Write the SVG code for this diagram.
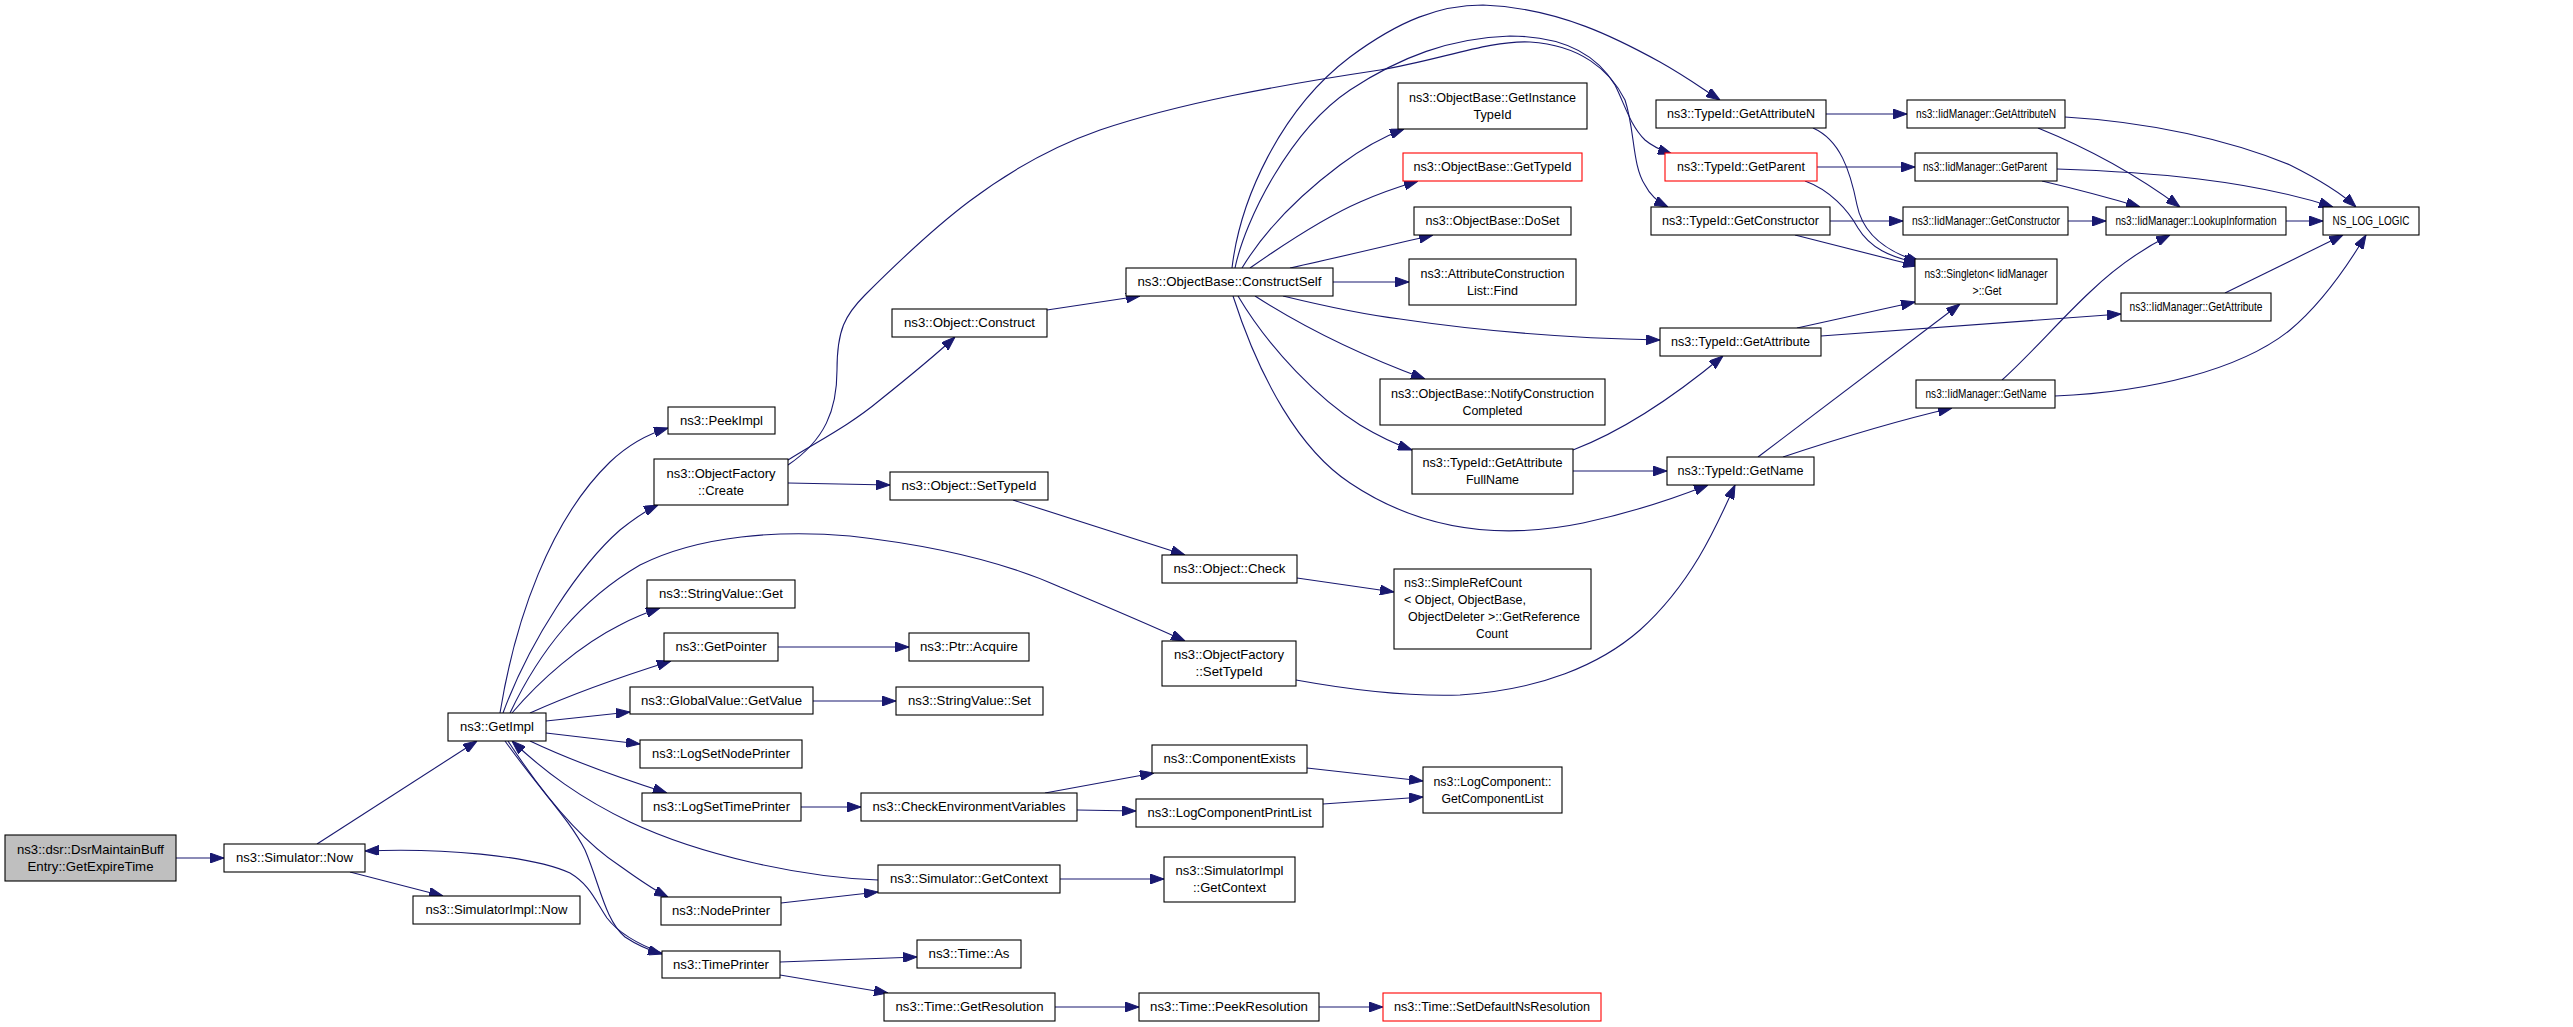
<svg xmlns="http://www.w3.org/2000/svg" width="2573" height="1027" viewBox="0 0 2573 1027">
<defs>
<style>
.n rect{fill:#fff;stroke:#000;stroke-width:1.1}
.r rect{stroke:#f00}
.g rect{fill:#bfbfbf}
text{font-family:"Liberation Sans",Arial,Helvetica,sans-serif;font-size:13.3px;fill:#000;text-anchor:middle}
text.s{text-anchor:start}
#edges path{fill:none;stroke:#191970;stroke-width:1.1;marker-end:url(#a)}
</style>
<marker id="a" viewBox="0 0 14 10" refX="14" refY="5" markerWidth="14" markerHeight="10" markerUnits="userSpaceOnUse" orient="auto">
<path d="M0,0 L14,5 L0,10 Z" fill="#191970" stroke="#191970" stroke-width="1"/>
</marker>
</defs>
<rect x="0" y="0" width="2573" height="1027" fill="#fff"/>
<g id="edges">
<path d="M176,858 L224,858"/>
<path d="M317,844 L477,741"/>
<path d="M350,872 L443,896"/>
<path d="M662,953 C640,945 620,935 607,918 C595,900 590,885 570,873 C530,855 440,848 365,851"/>
<path d="M500,713 C515,620 550,520 610,462 C630,443 648,434 668,428"/>
<path d="M503,713 C530,640 580,565 620,530 C635,518 645,511 658,505"/>
<path d="M510,713 C540,650 580,600 640,565 C700,535 780,530 850,536 C930,545 1000,560 1060,587 C1110,608 1150,625 1185,641"/>
<path d="M512,713 C540,680 580,645 620,625 C635,617 648,612 660,608"/>
<path d="M530,713 C570,695 620,677 671,661"/>
<path d="M546,721 L630,712"/>
<path d="M546,733 L640,744"/>
<path d="M530,741 C570,760 620,778 667,793"/>
<path d="M508,741 C540,790 580,840 620,866 C640,880 652,889 668,897"/>
<path d="M505,741 C540,790 570,820 585,850 C600,885 605,920 625,937 C637,945 648,950 662,954"/>
<path d="M878,880 C800,877 700,855 630,822 C580,798 545,772 512,741"/>
<path d="M781,903 L878,892"/>
<path d="M788,483 L890,485"/>
<path d="M788,460 C820,440 850,425 880,400 C905,380 930,360 955,337"/>
<path d="M788,465 C825,440 837,410 837,370 C837,330 845,315 865,295 C930,230 1000,165 1100,130 C1180,103 1280,85 1380,70 C1440,60 1490,40 1530,42 C1580,45 1610,70 1625,100 C1635,130 1632,165 1645,185 C1650,195 1658,202 1668,207"/>
<path d="M1235,268 C1245,220 1290,130 1350,90 C1400,57 1450,38 1510,36 C1570,36 1600,60 1615,85 C1625,105 1630,125 1645,140 C1652,146 1660,150 1672,154"/>
<path d="M1232,268 C1240,200 1280,110 1350,57 C1400,20 1440,5 1483,5 C1560,8 1620,40 1660,62 C1685,76 1700,87 1720,100"/>
<path d="M1242,268 C1265,230 1300,195 1340,165 C1360,150 1380,138 1404,129"/>
<path d="M1250,268 C1290,240 1330,215 1360,202 C1380,193 1398,187 1418,181"/>
<path d="M1290,268 C1340,257 1390,245 1433,235"/>
<path d="M1333,282 L1409,282"/>
<path d="M1283,296 C1320,305 1360,314 1400,319 C1480,331 1560,338 1660,340"/>
<path d="M1255,296 C1300,325 1360,355 1425,379"/>
<path d="M1238,296 C1270,350 1320,400 1360,425 C1380,437 1395,444 1412,450"/>
<path d="M1233,296 C1260,380 1300,450 1350,483 C1420,530 1500,540 1583,523 C1630,513 1670,500 1708,485"/>
<path d="M1047,310 L1140,296"/>
<path d="M1013,500 L1185,555"/>
<path d="M1297,578 L1394,592"/>
<path d="M778,647 L909,647"/>
<path d="M813,701 L896,701"/>
<path d="M801,807 L861,807"/>
<path d="M1045,793 L1154,773"/>
<path d="M1077,810 L1136,811"/>
<path d="M1307,768 L1423,781"/>
<path d="M1323,804 L1423,797"/>
<path d="M1060,879 L1164,879"/>
<path d="M780,962 L917,957"/>
<path d="M780,975 L888,993"/>
<path d="M1055,1007 L1139,1007"/>
<path d="M1319,1007 L1383,1007"/>
<path d="M1296,680 C1340,688 1400,697 1460,695 C1540,690 1600,665 1640,630 C1690,585 1715,530 1735,485"/>
<path d="M1573,450 C1620,432 1670,400 1723,356"/>
<path d="M1573,471 L1667,471"/>
<path d="M1826,114 L1907,114"/>
<path d="M1813,128 C1840,140 1850,170 1857,205 C1862,230 1880,250 1920,262"/>
<path d="M1817,167 L1915,167"/>
<path d="M1805,181 C1830,190 1848,210 1858,228 C1870,248 1890,257 1918,263"/>
<path d="M1830,221 L1903,221"/>
<path d="M1795,235 L1917,266"/>
<path d="M1797,328 L1915,302"/>
<path d="M1821,336 C1900,330 2000,322 2121,314"/>
<path d="M1758,457 L1960,304"/>
<path d="M1783,457 C1840,438 1900,420 1952,408"/>
<path d="M2038,128 C2080,145 2130,170 2180,207"/>
<path d="M2065,117 C2150,122 2230,140 2290,165 C2320,180 2340,192 2356,207"/>
<path d="M2042,181 C2080,190 2110,198 2140,207"/>
<path d="M2057,169 C2150,172 2250,180 2333,207"/>
<path d="M2068,221 L2106,221"/>
<path d="M2286,221 L2323,221"/>
<path d="M2225,293 L2343,235"/>
<path d="M2002,380 C2030,355 2060,320 2090,292 C2115,268 2140,250 2170,235"/>
<path d="M2055,396 C2150,392 2240,370 2290,330 C2320,305 2345,270 2366,235"/>
</g>
<g id="dsr" class="n g"><rect x="5" y="835" width="171" height="46"/><text x="90.5" y="853.5" textLength="147" lengthAdjust="spacingAndGlyphs">ns3::dsr::DsrMaintainBuff</text><text x="90.5" y="870.5" textLength="126" lengthAdjust="spacingAndGlyphs">Entry::GetExpireTime</text></g>
<g id="simnow" class="n"><rect x="224" y="844" width="141" height="28"/><text x="294.5" y="862" textLength="117" lengthAdjust="spacingAndGlyphs">ns3::Simulator::Now</text></g>
<g id="simimplnow" class="n"><rect x="413" y="896" width="167" height="28"/><text x="496.5" y="914" textLength="142" lengthAdjust="spacingAndGlyphs">ns3::SimulatorImpl::Now</text></g>
<g id="getimpl" class="n"><rect x="448" y="713" width="98" height="28"/><text x="497" y="731" textLength="74" lengthAdjust="spacingAndGlyphs">ns3::GetImpl</text></g>
<g id="peekimpl" class="n"><rect x="668" y="407" width="107" height="27"/><text x="721.5" y="425" textLength="83" lengthAdjust="spacingAndGlyphs">ns3::PeekImpl</text></g>
<g id="ofcreate" class="n"><rect x="654" y="459" width="134" height="46"/><text x="721" y="477.5" textLength="109" lengthAdjust="spacingAndGlyphs">ns3::ObjectFactory</text><text x="721" y="494.5" textLength="46" lengthAdjust="spacingAndGlyphs">::Create</text></g>
<g id="svget" class="n"><rect x="647" y="580" width="148" height="28"/><text x="721" y="598" textLength="124" lengthAdjust="spacingAndGlyphs">ns3::StringValue::Get</text></g>
<g id="getpointer" class="n"><rect x="664" y="633" width="114" height="28"/><text x="721" y="651" textLength="91" lengthAdjust="spacingAndGlyphs">ns3::GetPointer</text></g>
<g id="gvgetvalue" class="n"><rect x="630" y="687" width="183" height="27"/><text x="721.5" y="705" textLength="161" lengthAdjust="spacingAndGlyphs">ns3::GlobalValue::GetValue</text></g>
<g id="logsetnode" class="n"><rect x="640" y="740" width="162" height="28"/><text x="721" y="758" textLength="138" lengthAdjust="spacingAndGlyphs">ns3::LogSetNodePrinter</text></g>
<g id="logsettime" class="n"><rect x="642" y="793" width="159" height="28"/><text x="721.5" y="811" textLength="137" lengthAdjust="spacingAndGlyphs">ns3::LogSetTimePrinter</text></g>
<g id="nodeprinter" class="n"><rect x="661" y="897" width="120" height="28"/><text x="721" y="915" textLength="98" lengthAdjust="spacingAndGlyphs">ns3::NodePrinter</text></g>
<g id="timeprinter" class="n"><rect x="662" y="951" width="118" height="27"/><text x="721" y="969" textLength="96" lengthAdjust="spacingAndGlyphs">ns3::TimePrinter</text></g>
<g id="objconstruct" class="n"><rect x="892" y="309" width="155" height="28"/><text x="969.5" y="327" textLength="131" lengthAdjust="spacingAndGlyphs">ns3::Object::Construct</text></g>
<g id="objsettypeid" class="n"><rect x="890" y="472" width="158" height="28"/><text x="969" y="490" textLength="135" lengthAdjust="spacingAndGlyphs">ns3::Object::SetTypeId</text></g>
<g id="ptracquire" class="n"><rect x="909" y="633" width="120" height="28"/><text x="969" y="651" textLength="98" lengthAdjust="spacingAndGlyphs">ns3::Ptr::Acquire</text></g>
<g id="svset" class="n"><rect x="896" y="687" width="147" height="28"/><text x="969.5" y="705" textLength="123" lengthAdjust="spacingAndGlyphs">ns3::StringValue::Set</text></g>
<g id="checkenv" class="n"><rect x="861" y="793" width="216" height="28"/><text x="969" y="811" textLength="193" lengthAdjust="spacingAndGlyphs">ns3::CheckEnvironmentVariables</text></g>
<g id="simgetctx" class="n"><rect x="878" y="865" width="182" height="28"/><text x="969" y="883" textLength="158" lengthAdjust="spacingAndGlyphs">ns3::Simulator::GetContext</text></g>
<g id="timeas" class="n"><rect x="917" y="940" width="104" height="28"/><text x="969" y="958" textLength="81" lengthAdjust="spacingAndGlyphs">ns3::Time::As</text></g>
<g id="timegetres" class="n"><rect x="884" y="993" width="171" height="28"/><text x="969.5" y="1011" textLength="148" lengthAdjust="spacingAndGlyphs">ns3::Time::GetResolution</text></g>
<g id="constructself" class="n"><rect x="1126" y="268" width="207" height="28"/><text x="1229.5" y="286" textLength="184" lengthAdjust="spacingAndGlyphs">ns3::ObjectBase::ConstructSelf</text></g>
<g id="objcheck" class="n"><rect x="1162" y="555" width="135" height="28"/><text x="1229.5" y="573" textLength="112" lengthAdjust="spacingAndGlyphs">ns3::Object::Check</text></g>
<g id="ofsettypeid" class="n"><rect x="1162" y="641" width="134" height="45"/><text x="1229" y="659" textLength="110" lengthAdjust="spacingAndGlyphs">ns3::ObjectFactory</text><text x="1229" y="676" textLength="67" lengthAdjust="spacingAndGlyphs">::SetTypeId</text></g>
<g id="compexists" class="n"><rect x="1152" y="745" width="155" height="28"/><text x="1229.5" y="763" textLength="132" lengthAdjust="spacingAndGlyphs">ns3::ComponentExists</text></g>
<g id="logcompprint" class="n"><rect x="1136" y="799" width="187" height="28"/><text x="1229.5" y="817" textLength="164" lengthAdjust="spacingAndGlyphs">ns3::LogComponentPrintList</text></g>
<g id="simimplgetctx" class="n"><rect x="1164" y="857" width="131" height="45"/><text x="1229.5" y="874.5" textLength="108" lengthAdjust="spacingAndGlyphs">ns3::SimulatorImpl</text><text x="1229.5" y="891.5" textLength="73" lengthAdjust="spacingAndGlyphs">::GetContext</text></g>
<g id="peekres" class="n"><rect x="1139" y="993" width="180" height="28"/><text x="1229" y="1011" textLength="158" lengthAdjust="spacingAndGlyphs">ns3::Time::PeekResolution</text></g>
<g id="getinstancetypeid" class="n"><rect x="1398" y="83" width="189" height="46"/><text x="1492.5" y="101.5" textLength="167" lengthAdjust="spacingAndGlyphs">ns3::ObjectBase::GetInstance</text><text x="1492.5" y="118.5" textLength="38" lengthAdjust="spacingAndGlyphs">TypeId</text></g>
<g id="obgettypeid" class="n r"><rect x="1403" y="153" width="179" height="28"/><text x="1492.5" y="171" textLength="158" lengthAdjust="spacingAndGlyphs">ns3::ObjectBase::GetTypeId</text></g>
<g id="doset" class="n"><rect x="1414" y="207" width="157" height="28"/><text x="1492.5" y="225" textLength="134" lengthAdjust="spacingAndGlyphs">ns3::ObjectBase::DoSet</text></g>
<g id="find" class="n"><rect x="1409" y="259" width="167" height="46"/><text x="1492.5" y="277.5" textLength="144" lengthAdjust="spacingAndGlyphs">ns3::AttributeConstruction</text><text x="1492.5" y="294.5" textLength="51" lengthAdjust="spacingAndGlyphs">List::Find</text></g>
<g id="notify" class="n"><rect x="1380" y="379" width="225" height="46"/><text x="1492.5" y="397.5" textLength="203" lengthAdjust="spacingAndGlyphs">ns3::ObjectBase::NotifyConstruction</text><text x="1492.5" y="414.5" textLength="60" lengthAdjust="spacingAndGlyphs">Completed</text></g>
<g id="getattrfull" class="n"><rect x="1412" y="449" width="161" height="45"/><text x="1492.5" y="467" textLength="140" lengthAdjust="spacingAndGlyphs">ns3::TypeId::GetAttribute</text><text x="1492.5" y="484" textLength="53" lengthAdjust="spacingAndGlyphs">FullName</text></g>
<g id="simplerefcount" class="n"><rect x="1394" y="569" width="197" height="80"/><text class="s" x="1404" y="587" textLength="118" lengthAdjust="spacingAndGlyphs">ns3::SimpleRefCount</text><text class="s" x="1404" y="604" textLength="122" lengthAdjust="spacingAndGlyphs">&lt; Object, ObjectBase,</text><text class="s" x="1408" y="621" textLength="172" lengthAdjust="spacingAndGlyphs">ObjectDeleter &gt;::GetReference</text><text x="1492" y="638" textLength="32" lengthAdjust="spacingAndGlyphs">Count</text></g>
<g id="tgetattrn" class="n"><rect x="1656" y="100" width="170" height="28"/><text x="1741" y="118" textLength="148" lengthAdjust="spacingAndGlyphs">ns3::TypeId::GetAttributeN</text></g>
<g id="tgetparent" class="n r"><rect x="1665" y="153" width="152" height="28"/><text x="1741" y="171" textLength="128" lengthAdjust="spacingAndGlyphs">ns3::TypeId::GetParent</text></g>
<g id="tgetconstructor" class="n"><rect x="1651" y="207" width="179" height="28"/><text x="1740.5" y="225" textLength="157" lengthAdjust="spacingAndGlyphs">ns3::TypeId::GetConstructor</text></g>
<g id="tgetattribute" class="n"><rect x="1660" y="328" width="161" height="28"/><text x="1740.5" y="346" textLength="139" lengthAdjust="spacingAndGlyphs">ns3::TypeId::GetAttribute</text></g>
<g id="tgetname" class="n"><rect x="1667" y="457" width="147" height="28"/><text x="1740.5" y="475" textLength="126" lengthAdjust="spacingAndGlyphs">ns3::TypeId::GetName</text></g>
<g id="getcomplist" class="n"><rect x="1423" y="767" width="139" height="46"/><text x="1492.5" y="785.5" textLength="118" lengthAdjust="spacingAndGlyphs">ns3::LogComponent::</text><text x="1492.5" y="802.5" textLength="102" lengthAdjust="spacingAndGlyphs">GetComponentList</text></g>
<g id="setdefault" class="n r"><rect x="1383" y="993" width="218" height="28"/><text x="1492" y="1011" textLength="196" lengthAdjust="spacingAndGlyphs">ns3::Time::SetDefaultNsResolution</text></g>
<g id="iidgetattrn" class="n"><rect x="1907" y="100" width="158" height="28"/><text x="1986" y="118" textLength="140" lengthAdjust="spacingAndGlyphs">ns3::IidManager::GetAttributeN</text></g>
<g id="iidgetparent" class="n"><rect x="1915" y="153" width="142" height="28"/><text x="1985" y="171" textLength="124" lengthAdjust="spacingAndGlyphs">ns3::IidManager::GetParent</text></g>
<g id="iidgetconstructor" class="n"><rect x="1903" y="207" width="165" height="28"/><text x="1986" y="225" textLength="148" lengthAdjust="spacingAndGlyphs">ns3::IidManager::GetConstructor</text></g>
<g id="singleton" class="n"><rect x="1915" y="259" width="142" height="45"/><text x="1986" y="277.5" textLength="123" lengthAdjust="spacingAndGlyphs">ns3::Singleton&lt; IidManager</text><text x="1987" y="294.5" textLength="29" lengthAdjust="spacingAndGlyphs">&gt;::Get</text></g>
<g id="lookup" class="n"><rect x="2106" y="207" width="180" height="28"/><text x="2196" y="225" textLength="161" lengthAdjust="spacingAndGlyphs">ns3::IidManager::LookupInformation</text></g>
<g id="nslog" class="n"><rect x="2323" y="207" width="96" height="28"/><text x="2371" y="225" textLength="77" lengthAdjust="spacingAndGlyphs">NS_LOG_LOGIC</text></g>
<g id="iidgetattribute" class="n"><rect x="2121" y="293" width="150" height="28"/><text x="2196" y="311" textLength="133" lengthAdjust="spacingAndGlyphs">ns3::IidManager::GetAttribute</text></g>
<g id="iidgetname" class="n"><rect x="1916" y="380" width="139" height="28"/><text x="1986" y="398" textLength="121" lengthAdjust="spacingAndGlyphs">ns3::IidManager::GetName</text></g>
</svg>
